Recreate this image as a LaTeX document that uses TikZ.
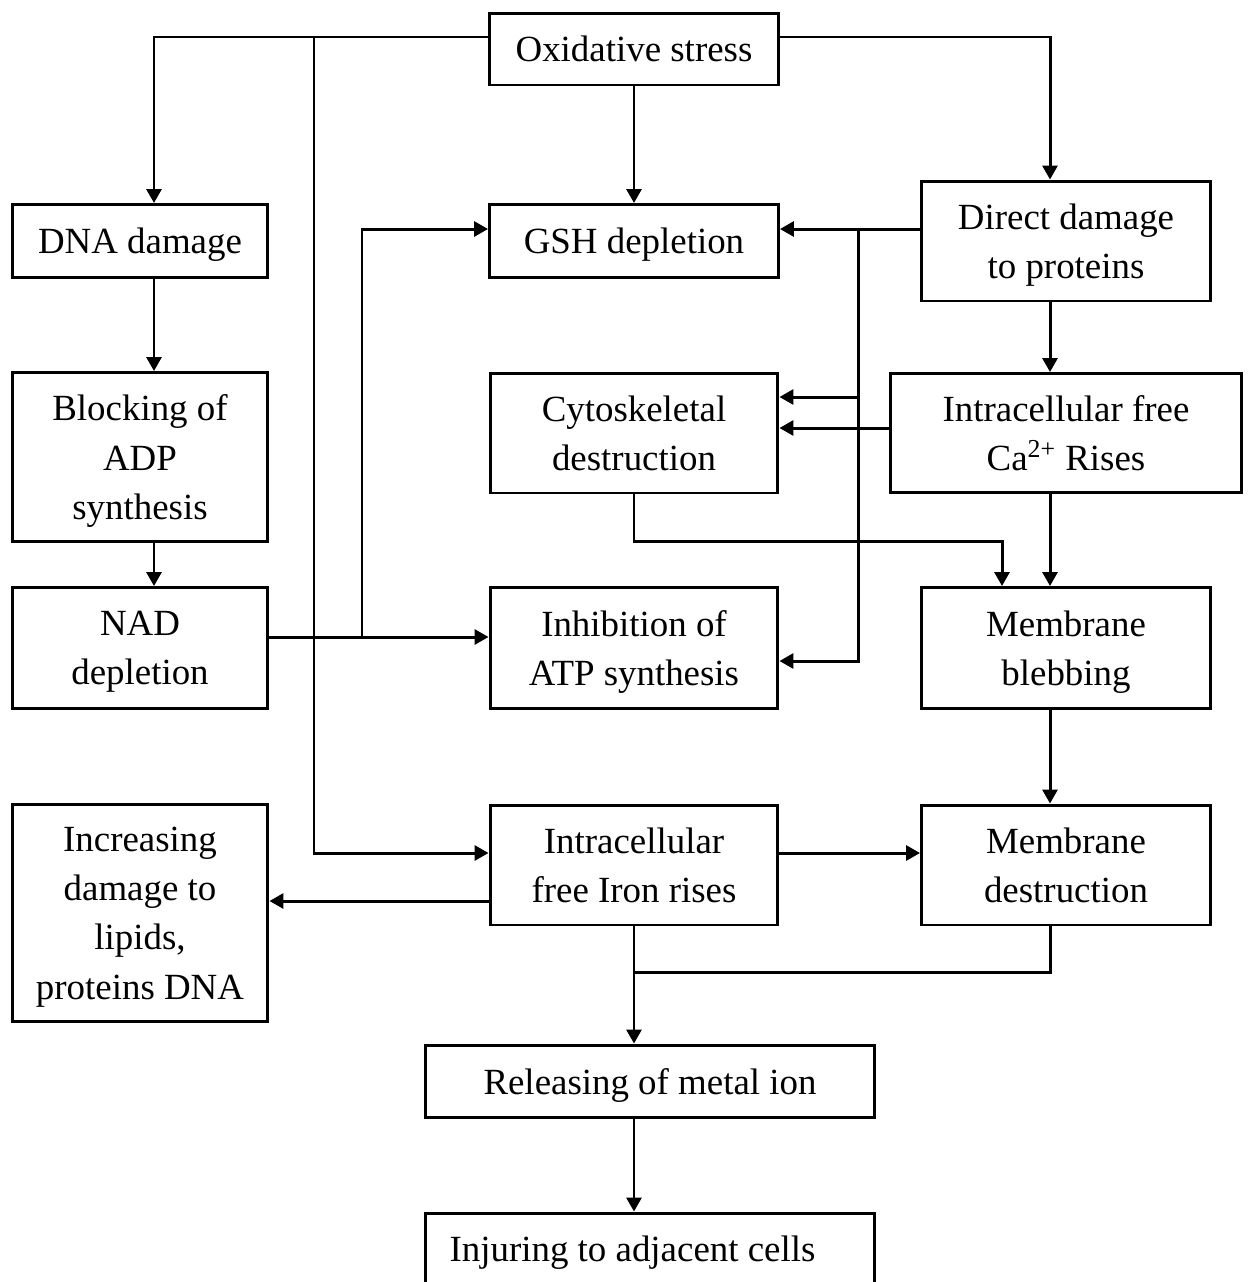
\documentclass[tikz,border=0pt]{standalone}
\usepackage{fontspec}
\setmainfont{Liberation Serif}
\usetikzlibrary{arrows.meta}

\begin{document}
\begin{tikzpicture}
  [x=0.02cm,y=-0.02cm,
   caja/.style={draw=black,line width=1.7pt,align=center,inner sep=2pt,
     text depth=0pt,font=\fontsize{21}{28}\selectfont},
   linea/.style={line width=1.7pt},
   flecha/.style={linea,-{Triangle[length=0.28cm,width=0.3cm]}}]
  \useasboundingbox (0,0) rectangle (1250,1282);

  \node[caja,minimum width=5.8cm,minimum height=1.44cm] (ox) at (634,49) {Oxidative stress};
  \node[caja,minimum width=5.1cm,minimum height=1.46cm] (dna) at (140,241) {DNA damage};
  \node[caja,minimum width=5.78cm,minimum height=1.46cm] (gsh) at (634,241) {GSH depletion};
  \node[caja,minimum width=5.78cm,minimum height=2.4cm] (dir) at (1066,241) {Direct damage\\to proteins};
  \node[caja,minimum width=5.1cm,minimum height=3.38cm] (blk) at (140,457) {Blocking of\\ADP\\synthesis};
  \node[caja,minimum width=5.76cm,minimum height=2.4cm] (cyt) at (634,433) {Cytoskeletal\\destruction};
  \node[caja,minimum width=7.04cm,minimum height=2.38cm] (ca) at (1066,433) {Intracellular free\\Ca\textsuperscript{2+} Rises};
  \node[caja,minimum width=5.1cm,minimum height=2.42cm] (nad) at (140,648) {NAD\\depletion};
  \node[caja,minimum width=5.76cm,minimum height=2.42cm] (atp) at (634,648) {Inhibition of\\ATP synthesis};
  \node[caja,minimum width=5.78cm,minimum height=2.42cm] (bleb) at (1066,648) {Membrane\\blebbing};
  \node[caja,minimum width=5.12cm,minimum height=4.34cm] (inc) at (140,913) {Increasing\\damage to\\lipids,\\proteins DNA};
  \node[caja,minimum width=5.76cm,minimum height=2.4cm] (fe) at (634,865) {Intracellular\\free Iron rises};
  \node[caja,minimum width=5.78cm,minimum height=2.4cm] (mdes) at (1066,865) {Membrane\\destruction};
  \node[caja,minimum width=8.98cm,minimum height=1.44cm] (rel) at (650,1081) {Releasing of metal ion};
  \node[caja,minimum width=8.98cm,minimum height=1.44cm] (inj) at (650,1249) {Injuring to adjacent cells\hspace*{0.7cm}};

  % puntos de giro de las lineas
  \coordinate (tl) at (154,37);
  \coordinate (tv) at (314,37);
  \coordinate (tr) at (1050,37);
  \coordinate (fv) at (314,853);
  \coordinate (gy) at (858,229);
  \coordinate (c1) at (858,397);
  \coordinate (a1) at (858,661);
  \coordinate (ny) at (362,637);
  \coordinate (cb) at (1002,541);

  % desde Oxidative stress
  \draw[flecha] (ox.west |- tl) -| (dna.north -| tl);
  \draw[flecha] (tv) -- (fv) -- (fe.west |- fv);
  \draw[flecha] (ox) -- (gsh);
  \draw[flecha] (ox.east |- tr) -| (dir.north -| tr);

  % columna izquierda
  \foreach \from/\to in {dna/blk, blk/nad}
    \draw[flecha] (\from.south -| tl) -- (\to.north -| tl);

  % columna derecha
  \foreach \from/\to in {dir/ca, ca/bleb, bleb/mdes}
    \draw[flecha] (\from.south -| tr) -- (\to.north -| tr);

  \draw[flecha] (dir.west |- gy) -- (gsh.east |- gy);
  \draw[flecha] (gy) |- (atp.east |- a1);
  \draw[flecha] (c1) -- (cyt.east |- c1);
  \draw[flecha] (ca.west |- 0,428) -- (cyt.east |- 0,428);

  \draw[flecha] (nad.east |- ny) -- (atp.west |- ny);
  \draw[flecha] (ny) |- (gsh.west |- gy);

  \draw[flecha] (cyt.south) |- (cb) -- (bleb.north -| cb);

  % abajo
  \draw[flecha] (fe.east |- fv) -- (mdes.west |- fv);
  \draw[flecha] (fe.west |- 0,901) -- (inc.east |- 0,901);
  \draw[flecha] (fe.south) -- (rel.north -| fe.south);
  \draw[linea] (mdes.south -| tr) |- (fe.south |- 0,972);
  \draw[flecha] (rel.south -| fe.south) -- (inj.north -| fe.south);
\end{tikzpicture}
\end{document}
